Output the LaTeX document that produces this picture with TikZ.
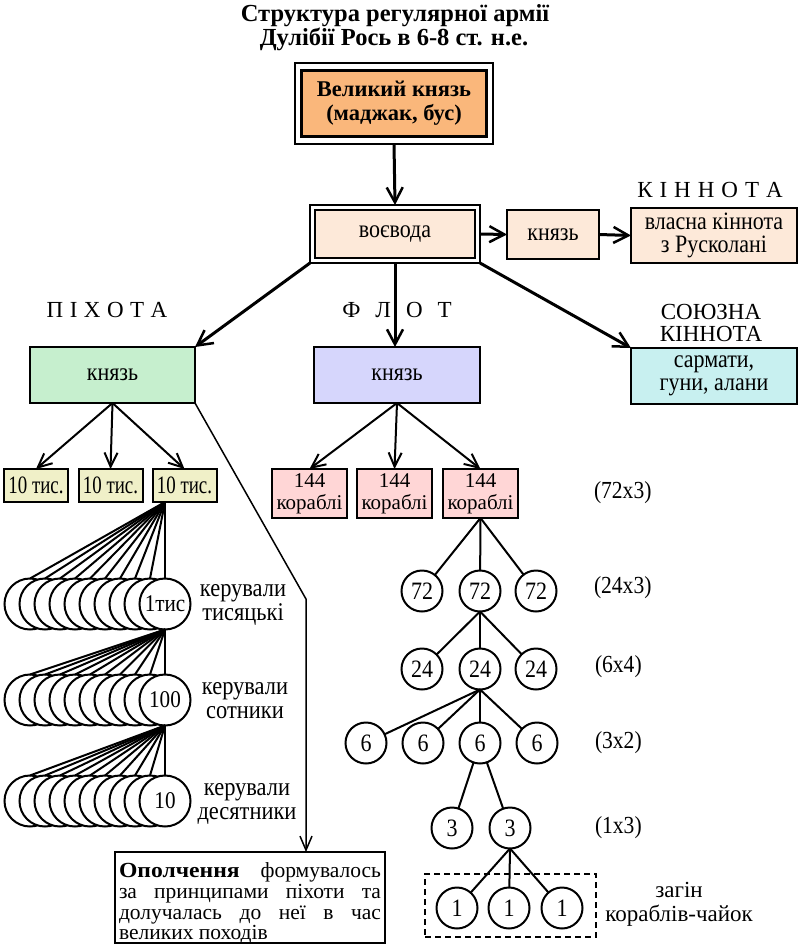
\documentclass[tikz,border=0pt]{standalone}
\usepackage{fontspec}
\setmainfont{Liberation Serif}
\newfontfamily\cond{Liberation Serif}[FakeStretch=0.88]
\usetikzlibrary{arrows.meta}
\definecolor{cOrange}{HTML}{FAB77B}
\definecolor{cPeach}{HTML}{FDE9D9}
\definecolor{cGreen}{HTML}{C6EFCE}
\definecolor{cLav}{HTML}{D6D6FC}
\definecolor{cCyan}{HTML}{C8F0F0}
\definecolor{cKhaki}{HTML}{F0F0C8}
\definecolor{cPink}{HTML}{FFD6D6}
\newcommand{\fsz}[2]{\fontsize{#1}{#2}\selectfont}
\begin{document}
\begin{tikzpicture}[x=1pt,y=-1pt,
  bx/.style={draw, line width=2pt, inner sep=0pt, outer sep=0pt, align=center, font=\cond\fsz{25}{23}},
  lbl/.style={inner sep=0pt, outer sep=0pt, align=center, font=\cond\fsz{25}{24}},
  caps/.style={inner sep=0pt, outer sep=0pt, align=center, font=\fsz{23}{22}},
  big/.style={-{Straight Barb[length=15pt,width=16pt,line width=2.5pt]}, line width=3pt},
  sml/.style={-{Straight Barb[length=14pt,width=13pt,line width=2pt]}, line width=2pt},
  ln/.style={line width=2pt},
  fc/.style={circle, draw, line width=2pt, fill=white, minimum size=41pt, inner sep=0pt, outer sep=0pt, font=\cond\fsz{25}{24}},
  ic/.style={circle, draw, line width=2pt, fill=white, minimum size=51pt, inner sep=0pt, outer sep=0pt, font=\cond\fsz{24}{24}},
]
\useasboundingbox (0,0) rectangle (800,945);

% title
\node[caps, anchor=base, font=\bfseries\fsz{24.5}{25}] (title1) at (395,21) {Структура регулярної армії};
\node[caps, anchor=base, font=\bfseries\fsz{24.5}{25}] (title2) at (394,45) {Дулібії Рось в 6-8 ст. н.е.};

% top boxes
\node[draw, line width=2.5pt, minimum width=198pt, minimum height=81pt, inner sep=0pt, outer sep=0pt] (vkout) at (394,103.5) {};
\node[bx, line width=3.5pt, fill=cOrange, minimum width=185pt, minimum height=66pt, font=\bfseries\fsz{22.5}{24}] (vk) at (394,103.5) {Великий князь\\(маджак, бус)};

\node[draw, line width=2pt, minimum width=170pt, minimum height=58pt, inner sep=0pt, outer sep=0pt] (vvout) at (395,234) {};
\node[bx, line width=2.5pt, fill=cPeach, minimum width=160pt, minimum height=48pt] (vv) at (395,234) {воєвода};

\node[bx, fill=cPeach, minimum width=92pt, minimum height=49pt] (kn1) at (553,234.5) {князь};
\node[bx, fill=cPeach, minimum width=166pt, minimum height=55pt] (vl) at (714,235.5) {власна кіннота\\з Русколані};
\node[caps] (kinlbl) at (710,190) {К\hspace{7pt}І\hspace{7pt}Н\hspace{7pt}Н\hspace{7pt}О\hspace{7pt}Т\hspace{7pt}А};

% second level
\node[bx, fill=cGreen, minimum width=165pt, minimum height=56pt] (pk) at (112.5,375) {князь};
\node[bx, fill=cLav, minimum width=166pt, minimum height=56pt] (fk) at (397,375) {князь};
\node[bx, fill=cCyan, minimum width=166pt, minimum height=56pt, font=\cond\fsz{25}{23.5}] (sk) at (714,376) {сармати,\\гуни, алани};
\node[caps] (pixlbl) at (107,310) {П\hspace{6.5pt}І\hspace{6.5pt}Х\hspace{6.5pt}О\hspace{6.5pt}Т\hspace{6.5pt}А};
\node[caps] (flotlbl) at (397,310) {Ф\hspace{15pt}Л\hspace{15pt}О\hspace{15pt}Т};
\node[caps] (soyuz) at (711,323) {СОЮЗНА\\КІННОТА};

\draw[big] (vkout.south) -- (vvout.north);
\draw[big] (vvout.east) -- (kn1.west);
\draw[big] (kn1.east) -- (vl.west);
\draw[big] (vvout.south west) -- (pk.north east);
\draw[big] (vvout.south) -- (vvout.south |- fk.north);
\draw[big] (vvout.south east) -- (sk.north west);

% infantry
\foreach \i/\x in {1/36,2/110.5,3/184.5}{
  \node[bx, fill=cKhaki, minimum width=64pt, minimum height=33pt] (t\i) at (\x,485.5) {\scalebox{0.86}[1]{10 тис.}};
  \draw[sml] (pk.south) -- (t\i.north);
}
\foreach \r/\y/\t in {1/604/1тис,2/700/100,3/801/10}{
  \foreach \i in {0,...,9}{
    \node[ic] (r\r-\i) at ({30+15*\i},\y) {\ifnum\i=9 \t\fi};
  }
}
\coordinate (ap1) at (t3.south -| r1-9.north);
\foreach \i in {0,...,9}{
  \draw[ln] (ap1) -- (r1-\i.north);
  \draw[ln] (r1-9.south) -- (r2-\i.north);
  \draw[ln] (r2-9.south) -- (r3-\i.north);
}
\node[lbl, font=\cond\fsz{25.5}{24}] (l1) at (243,605) {керували\\тисяцькі};
\node[lbl, font=\cond\fsz{25.5}{24}] (l2) at (245,701) {керували\\сотники};
\node[lbl, font=\cond\fsz{25.5}{24}] (l3) at (247,803.5) {керували\\десятники};

% militia
\node[draw, line width=2pt, minimum width=270pt, minimum height=91pt, inner sep=0pt, outer sep=0pt] (opol) at (250,897.5) {};
\node[inner sep=0pt, outer sep=0pt] (opoltxt) at (250,903.5)
  {\parbox{262pt}{\fsz{21.5}{20.7}\hyphenpenalty=10000\exhyphenpenalty=10000\scalebox{1.1}[1]{\textbf{Ополчення}} формувалось\linebreak за принципами піхоти та\linebreak долучалась до неї в час\linebreak великих походів}};
\coordinate (bend) at (306,599);
\draw[line width=1.5pt, -{Straight Barb[length=14pt,width=12pt,line width=1.5pt]}] (pk.south east) -- (bend) -- (bend |- opol.north);

% fleet
\foreach \i/\x in {1/309.5,2/394.5,3/480.5}{
  \node[bx, fill=cPink, minimum width=75pt, minimum height=49pt, font=\fsz{21}{22}] (s\i) at (\x,493.5) {144\\кораблі};
  \draw[sml] (fk.south) -- (s\i.north);
}
\node[draw, dashed, dash pattern=on 6pt off 4pt, line width=1.5pt, minimum width=171pt, minimum height=63pt, inner sep=0pt] (zag) at (510.5,905.5) {};

\node[fc] (c72a) at (422,591) {72};
\node[fc] (c72b) at (480,591) {72};
\node[fc] (c72c) at (536,591) {72};
\node[fc] (c24a) at (422,669) {24};
\node[fc] (c24b) at (480,669) {24};
\node[fc] (c24c) at (536,669) {24};
\node[fc] (c6a) at (366,743) {6};
\node[fc] (c6b) at (423,743) {6};
\node[fc] (c6c) at (480,743) {6};
\node[fc] (c6d) at (537,743) {6};
\node[fc] (c3a) at (452,828) {3};
\node[fc] (c3b) at (510,828) {3};
\node[fc] (c1a) at (457,908) {1};
\node[fc] (c1b) at (509,908) {1};
\node[fc] (c1c) at (562,908) {1};

\foreach \n in {a,b,c} \draw[ln] (s3.south) -- (c72\n);
\foreach \n in {a,b,c} \draw[ln] (c72b.south) -- (c24\n);
\foreach \n in {a,b,c,d} \draw[ln] (c24b.south) -- (c6\n);
\draw[ln] (c6c) -- (c3a);
\draw[ln] (c6c) -- (c3b);
\foreach \n in {a,b,c} \draw[ln] (c3b.south) -- (c1\n);

\node[lbl, anchor=west, font=\cond\fsz{24.5}{24}] (n72) at (594,493) {(72x3)};
\node[lbl, anchor=west, font=\cond\fsz{24.5}{24}] (n24) at (594,588) {(24x3)};
\node[lbl, anchor=west, font=\cond\fsz{24.5}{24}] (n6) at (595,667) {(6x4)};
\node[lbl, anchor=west, font=\cond\fsz{24.5}{24}] (n3) at (595,743) {(3x2)};
\node[lbl, anchor=west, font=\cond\fsz{24.5}{24}] (n1) at (595,828) {(1x3)};
\node[lbl, font=\fsz{23}{24}] (zlbl) at (679,904) {загін\\кораблів-чайок};
\end{tikzpicture}
\end{document}
